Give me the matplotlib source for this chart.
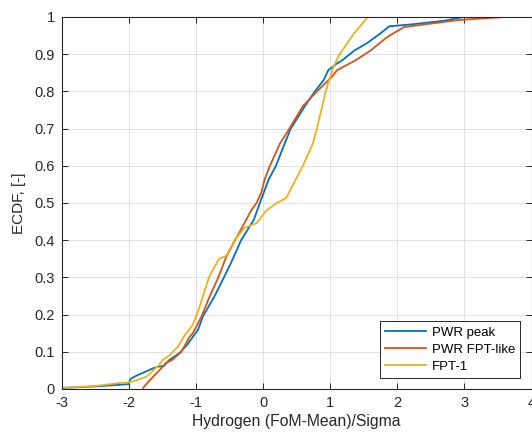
import matplotlib
matplotlib.use("Agg")
import matplotlib.pyplot as plt

# ---- data (ECDF knots) ----
pwr_peak_x = [-3.0, -2.5, -2.01, -1.98, -1.9, -1.8, -1.65, -1.57, -1.48, -1.4, -1.3, -1.23, -1.13,
              -1.05, -0.97, -0.9, -0.73, -0.58, -0.46, -0.33, -0.14, -0.05, 0.08, 0.19, 0.32, 0.41,
              0.62, 0.77, 0.9, 0.97, 1.1, 1.18, 1.36, 1.55, 1.74, 1.88, 2.2, 2.7, 2.98]
pwr_peak_y = [0.003, 0.007, 0.013, 0.027, 0.035, 0.043, 0.055, 0.06, 0.062, 0.078, 0.09, 0.1, 0.12,
              0.14, 0.16, 0.195, 0.248, 0.302, 0.347, 0.4, 0.455, 0.5, 0.563, 0.6, 0.66, 0.7,
              0.76, 0.8, 0.83, 0.857, 0.875, 0.884, 0.91, 0.93, 0.955, 0.975, 0.98, 0.99, 1.0]

pwr_fpt_x = [-1.79, -1.69, -1.55, -1.45, -1.36, -1.22, -1.1, -1.05, -0.92, -0.8, -0.67, -0.55, -0.42,
             -0.28, -0.18, -0.1, -0.03, 0.02, 0.1, 0.25, 0.39, 0.59, 0.8, 1.03, 1.1, 1.38, 1.6,
             1.84, 1.93, 2.1, 2.4, 2.92, 3.6]
pwr_fpt_y = [0.003, 0.024, 0.05, 0.07, 0.078, 0.1, 0.14, 0.15, 0.195, 0.248, 0.3, 0.356, 0.4,
             0.446, 0.48, 0.5, 0.527, 0.563, 0.6, 0.66, 0.7, 0.76, 0.8, 0.84, 0.857, 0.884, 0.91,
             0.945, 0.955, 0.973, 0.98, 0.992, 1.0]

fpt1_x = [-3.0, -2.5, -2.2, -2.0, -1.95, -1.74, -1.55, -1.5, -1.4, -1.27, -1.17, -1.05, -0.95,
          -0.81, -0.66, -0.55, -0.43, -0.28, -0.1, 0.05, 0.2, 0.34, 0.43, 0.59, 0.74, 0.8, 0.88,
          0.93, 1.05, 1.14, 1.35, 1.56]
fpt1_y = [0.003, 0.008, 0.015, 0.018, 0.02, 0.033, 0.065, 0.078, 0.09, 0.114, 0.145, 0.172, 0.22,
          0.3, 0.35, 0.358, 0.4, 0.433, 0.446, 0.48, 0.5, 0.513, 0.544, 0.6, 0.66, 0.7, 0.76,
          0.8, 0.867, 0.9, 0.955, 1.0]

labels = ["PWR peak", "PWR FPT-like", "FPT-1"]
colors = ["#0072BD", "#D95319", "#EDB120"]
x_ticks = [-3, -2, -1, 0, 1, 2, 3, 4]
y_ticks = [0, 0.1, 0.2, 0.3, 0.4, 0.5, 0.6, 0.7, 0.8, 0.9, 1]
y_ticklabels = ["0", "0.1", "0.2", "0.3", "0.4", "0.5", "0.6", "0.7", "0.8", "0.9", "1"]

plt.rcParams["font.family"] = ["Liberation Sans", "DejaVu Sans"]

fig = plt.figure(figsize=(5.32, 4.32), dpi=100)
ax = fig.add_axes([62 / 532, 1 - 389 / 432, 469.5 / 532, 372 / 432])

series = [(pwr_peak_x, pwr_peak_y), (pwr_fpt_x, pwr_fpt_y), (fpt1_x, fpt1_y)]
for (xs, ys), lab, col in zip(series, labels, colors):
    ax.plot(xs, ys, color=col, lw=1.3, label=lab)

ax.set_xlim(-3, 4)
ax.set_ylim(0, 1)
ax.set_xticks(x_ticks)
ax.set_xticklabels([str(t) for t in x_ticks])
ax.set_yticks(y_ticks)
ax.set_yticklabels(y_ticklabels)

axcol = "#262626"
ax.grid(True, color="#dcdcdc", lw=0.6)
ax.set_axisbelow(True)
for sp in ax.spines.values():
    sp.set_color(axcol)
    sp.set_linewidth(0.8)
ax.tick_params(direction="in", length=4, width=0.7, colors=axcol, labelsize=10.5,
               top=True, right=True, labelcolor=axcol, pad=5)

ax.set_xlabel("Hydrogen (FoM-Mean)/Sigma", fontsize=11.3, color=axcol, labelpad=3)
ax.set_ylabel("ECDF, [-]", fontsize=11, color=axcol, labelpad=6)

leg = ax.legend(loc="lower right", fontsize=9.5, frameon=True, fancybox=False,
                edgecolor=axcol, framealpha=1, handlelength=3.1, borderaxespad=0.85,
                labelspacing=0.35, borderpad=0.4, handletextpad=0.4)
leg.get_frame().set_linewidth(0.7)

fig.savefig("out.png", dpi=100, facecolor="white")
